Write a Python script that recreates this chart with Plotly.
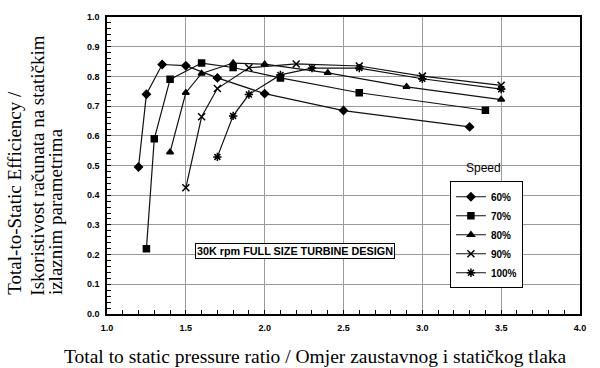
import plotly.graph_objects as go

# Data
x60 = [1.2, 1.25, 1.35, 1.5, 1.7, 2.0, 2.5, 3.3]
y60 = [0.495, 0.74, 0.84, 0.836, 0.795, 0.742, 0.685, 0.63]

x70 = [1.25, 1.3, 1.4, 1.6, 1.8, 2.1, 2.6, 3.4]
y70 = [0.22, 0.59, 0.79, 0.845, 0.83, 0.795, 0.745, 0.686]

x80 = [1.4, 1.5, 1.6, 1.8, 2.0, 2.4, 2.9, 3.5]
y80 = [0.545, 0.745, 0.81, 0.845, 0.841, 0.812, 0.765, 0.722]

x90 = [1.5, 1.6, 1.7, 1.9, 2.2, 2.6, 3.0, 3.5]
y90 = [0.425, 0.664, 0.759, 0.829, 0.842, 0.835, 0.801, 0.77]

x100 = [1.7, 1.8, 1.9, 2.1, 2.3, 2.6, 3.0, 3.5]
y100 = [0.529, 0.667, 0.739, 0.805, 0.828, 0.828, 0.792, 0.757]

series_names = ["60%", "70%", "80%", "90%", "100%"]
xs = [x60, x70, x80, x90, x100]
ys = [y60, y70, y80, y90, y100]
symbols = ["diamond", "square", "triangle-up", "x-thin-open", "asterisk-open"]
msizes = [6, 6, 6, 7, 7]

x_ticks = [1.0, 1.5, 2.0, 2.5, 3.0, 3.5, 4.0]
y_ticks = [0.0, 0.1, 0.2, 0.3, 0.4, 0.5, 0.6, 0.7, 0.8, 0.9, 1.0]

fig = go.Figure()
for name, xv, yv, sym, ms in zip(series_names, xs, ys, symbols, msizes):
    fig.add_trace(go.Scatter(
        x=xv, y=yv, name=name, mode="lines+markers",
        line=dict(color="#111111", width=1.2),
        marker=dict(symbol=sym, size=ms, color="black",
                    line=dict(color="black", width=1.5)),
    ))

axis_common = dict(
    showgrid=True, gridcolor="#9a9a9a", gridwidth=1,
    showline=True, linecolor="black", linewidth=1.5, mirror=True,
    ticks="inside", ticklen=4, tickcolor="black",
    zeroline=False,
    tickfont=dict(family="Liberation Sans, Arial", size=9, color="black", weight="bold"),
)

fig.update_layout(
    width=600, height=368,
    margin=dict(l=107, r=20, t=14, b=54),
    paper_bgcolor="white", plot_bgcolor="white",
    showlegend=True,
    legend=dict(
        x=0.725, y=0.447, xanchor="left", yanchor="top",
        bordercolor="black", borderwidth=1, bgcolor="white",
        font=dict(family="Liberation Sans, Arial", size=10, color="black", weight="bold"),
        itemwidth=30, tracegroupgap=0,
    ),
    xaxis=dict(range=[1, 4], tickvals=x_ticks, ticktext=[f"{v:.1f}" for v in x_ticks],
               ticklabelstandoff=4,
               minor=dict(dtick=0.1, ticks="inside", ticklen=4, tickcolor="black", showgrid=False),
               **axis_common),
    yaxis=dict(range=[0, 1], tickvals=y_ticks, ticktext=[f"{v:.1f}" for v in y_ticks],
               ticklabelstandoff=4,
               minor=dict(dtick=0.02, ticks="inside", ticklen=4, tickcolor="black", showgrid=False),
               **axis_common),
)

serif_x = dict(family="Liberation Serif, Times New Roman", size=19.5, color="black")
serif_y = dict(family="Liberation Serif, Times New Roman", size=19, color="black")

fig.add_annotation(
    text="Total to static pressure ratio / Omjer zaustavnog i statičkog tlaka",
    xref="paper", yref="paper", x=0.44, y=-0.143,
    xanchor="center", yanchor="middle", showarrow=False, font=serif_x,
)

y_title_lines = ["Total-to-Static Efficiency /",
                 "Iskoristivost računata na statičkim",
                 "izlaznim parametrima"]
y_title_x = [-0.1955, -0.147, -0.109]
for txt, xp in zip(y_title_lines, y_title_x):
    fig.add_annotation(
        text=txt, xref="paper", yref="paper", x=xp, y=0.0567,
        xanchor="center", yanchor="bottom", textangle=-90,
        showarrow=False, font=serif_y,
    )

fig.add_annotation(
    text="Speed", xref="paper", yref="paper", x=0.795, y=0.493,
    xanchor="center", yanchor="middle", showarrow=False,
    font=dict(family="Liberation Sans, Arial", size=12, color="black"),
)

fig.add_annotation(
    text="30K rpm FULL SIZE TURBINE DESIGN", xref="x", yref="y",
    x=2.19, y=0.211, xanchor="center", yanchor="middle", showarrow=False,
    bordercolor="black", borderwidth=1, borderpad=1, bgcolor="white",
    font=dict(family="Liberation Sans, Arial", size=10.8, color="black", weight="bold"),
)

fig.write_html("out.html")
